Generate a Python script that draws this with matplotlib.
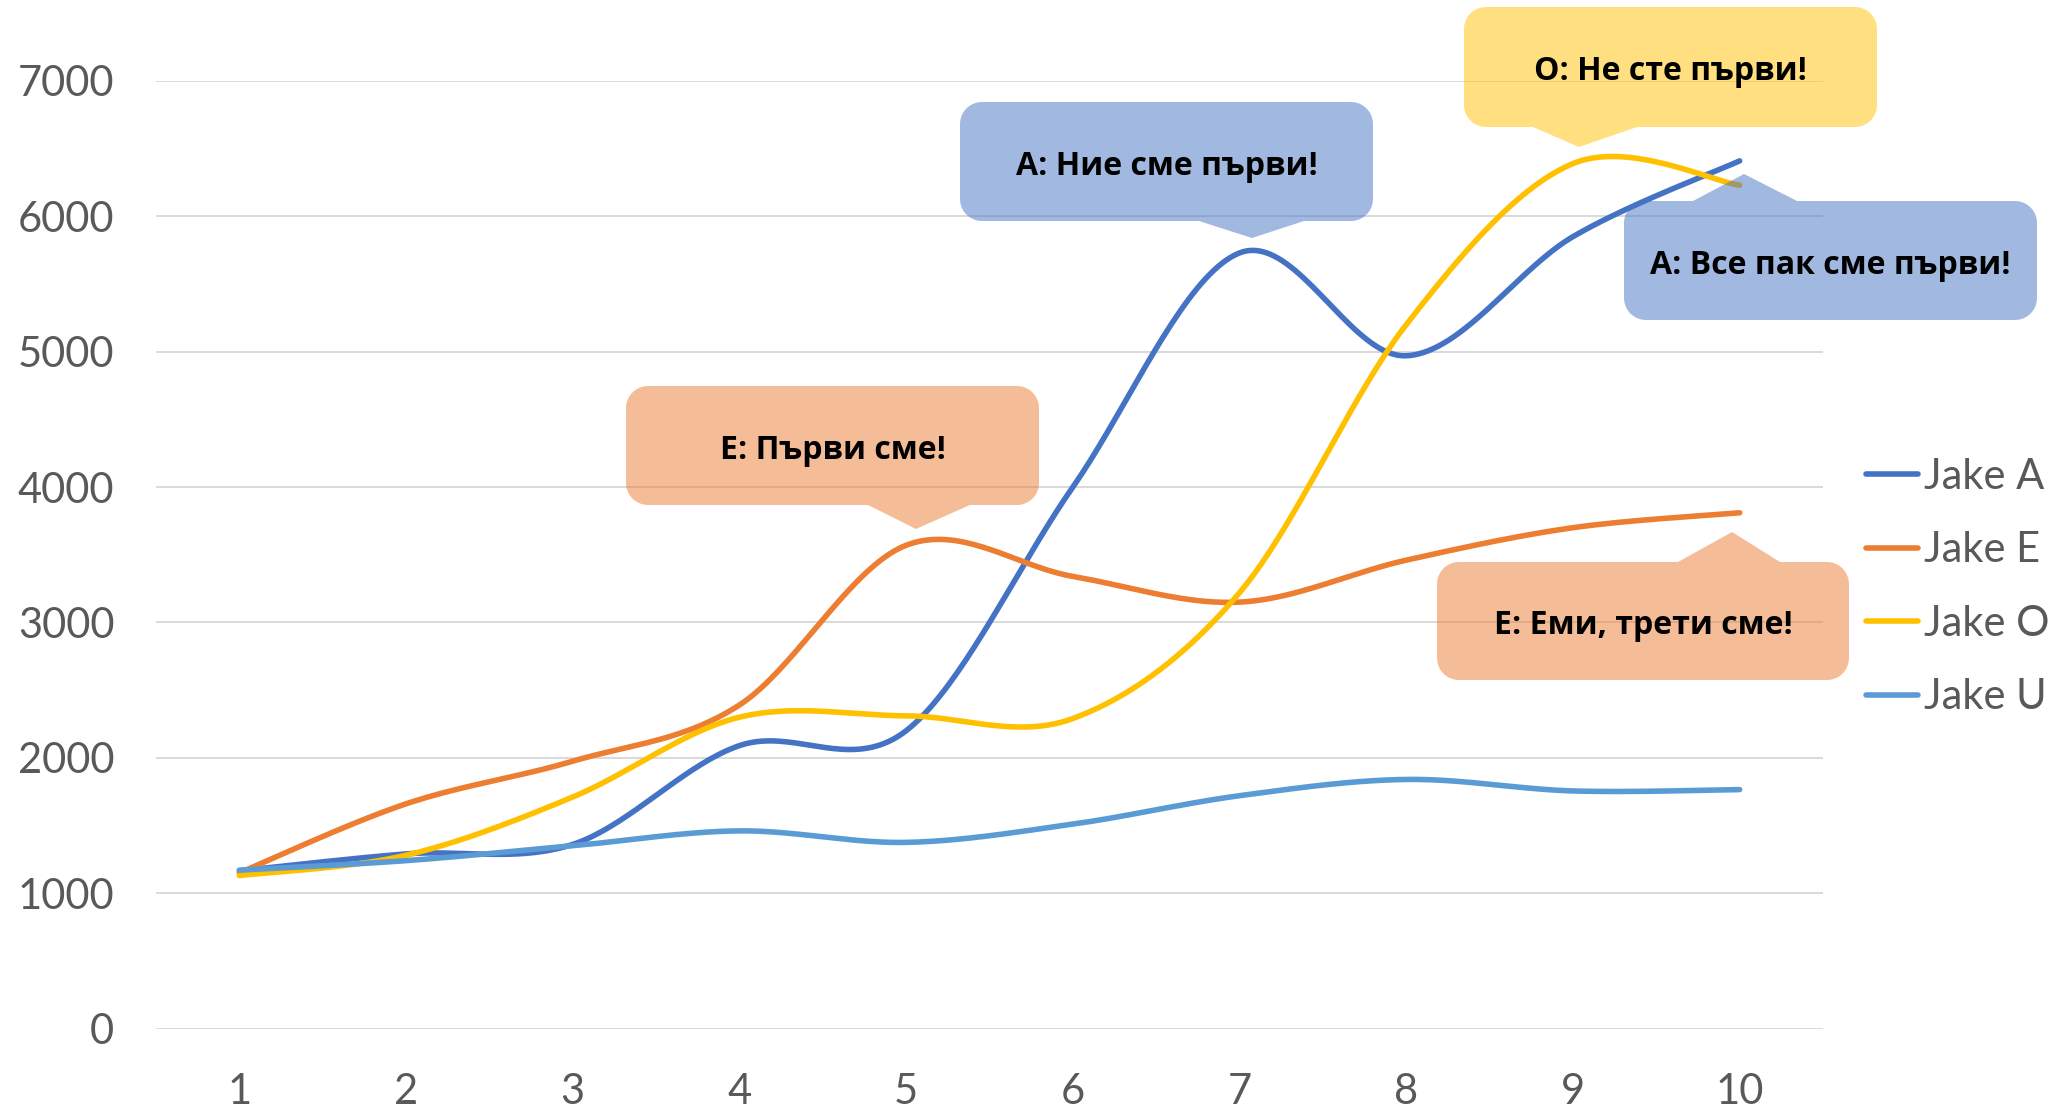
import numpy as np
import matplotlib
matplotlib.use("Agg")
import matplotlib.pyplot as plt
from matplotlib.patches import Polygon

plt.rcParams['font.family'] = ['Lato', 'Noto Sans', 'DejaVu Sans']

# ---- данни ----
x_vals = [1, 2, 3, 4, 5, 6, 7, 8, 9, 10]
jake_a = [1165, 1290, 1360, 2090, 2200, 4000, 5730, 4970, 5850, 6410]
jake_e = [1150, 1660, 1975, 2390, 3570, 3340, 3150, 3460, 3700, 3810]
jake_o = [1130, 1280, 1710, 2300, 2310, 2290, 3220, 5200, 6390, 6230]
jake_u = [1170, 1240, 1350, 1460, 1375, 1510, 1720, 1840, 1755, 1765]
series_names = ["Jake A", "Jake E", "Jake O", "Jake U"]
series_colors = ["#4472C4", "#ED7D31", "#FFC000", "#5B9BD5"]

callout_texts = ["A: Ние сме първи!", "E: Първи сме!", "O: Не сте първи!",
                 "A: Все пак сме първи!", "E: Еми, трети сме!"]

W, H = 2066, 1112


def excel_smooth(xs, ys, n=40):
    # гладка линия като в Excel (Безие с контролни точки от съседите)
    p = np.column_stack([xs, ys]).astype(float)
    pts = np.vstack([p[0], p, p[-1]])
    t = np.linspace(0, 1, n)[:, None]
    out = []
    for i in range(len(p) - 1):
        p0, p1 = pts[i + 1], pts[i + 2]
        c1 = p0 + (pts[i + 2] - pts[i]) / 6
        c2 = p1 - (pts[i + 3] - pts[i + 1]) / 6
        seg = ((1 - t) ** 3) * p0 + 3 * ((1 - t) ** 2) * t * c1 + 3 * (1 - t) * t ** 2 * c2 + t ** 3 * p1
        out.append(seg if i == 0 else seg[1:])
    out = np.vstack(out)
    return out[:, 0], out[:, 1]


def bubble(fig, box, base, tip, color, text, r=22):
    # box = (x0, y0, x1, y1) в пиксели отгоре-наляво
    x0, y0, x1, y1 = box
    def arc(cx, cy, a0, a1):
        a = np.radians(np.linspace(a0, a1, 12))
        return list(zip(cx + r * np.cos(a), cy + r * np.sin(a)))
    pts = []
    up = tip[1] < y0
    if up:
        pts += [(base[0], y0), tip, (base[1], y0)]
    pts += arc(x1 - r, y0 + r, -90, 0)
    pts += arc(x1 - r, y1 - r, 0, 90)
    if not up:
        pts += [(base[1], y1), tip, (base[0], y1)]
    pts += arc(x0 + r, y1 - r, 90, 180)
    pts += arc(x0 + r, y0 + r, 180, 270)
    pts = [(px / W, 1 - py / H) for px, py in pts]
    poly = Polygon(pts, closed=True, transform=fig.transFigure, facecolor=color,
                   alpha=0.5, edgecolor='none', zorder=10)
    fig.add_artist(poly)
    fig.text((x0 + x1) / 2 / W, 1 - ((y0 + y1) / 2 + 5) / H, text, ha='center', va='center',
             fontsize=23, fontweight='bold', color='black', zorder=11,
             family=['Open Sans', 'Noto Sans', 'DejaVu Sans'])


fig = plt.figure(figsize=(W / 100, H / 100), dpi=100)
ax = fig.add_axes([156 / W, 1 - 1028.5 / H, (1823 - 156) / W, (1028.5 - 81) / H])

for ys, name, col in zip([jake_a, jake_e, jake_o, jake_u], series_names, series_colors):
    sx, sy = excel_smooth(x_vals, ys)
    ax.plot(sx, sy, color=col, lw=4.0, label=name, solid_capstyle='round', clip_on=False)

ax.set_xlim(0.5, 10.5)
ax.set_ylim(0, 7000)
ax.set_xticks(x_vals)
ax.set_yticks(range(0, 7001, 1000))
ax.grid(axis='y', color='#D9D9D9', lw=1.4)
ax.set_axisbelow(True)
for s in ax.spines.values():
    s.set_visible(False)
ax.tick_params(length=0, labelsize=30, labelcolor='#595959')
ax.tick_params(axis='x', pad=32)
ax.tick_params(axis='y', pad=30)

leg = fig.legend(loc='center left', bbox_to_anchor=(1866 / W, 1 - 587 / H),
                 bbox_transform=fig.transFigure, frameon=False, fontsize=30,
                 handlelength=1.25, handletextpad=0.15, labelspacing=0.85,
                 borderpad=0, borderaxespad=0)
for t in leg.get_texts():
    t.set_color('#595959')
for h in leg.get_lines():
    h.set_linewidth(4.0)

bubble(fig, (960, 102, 1373, 221), (1199, 1304), (1252, 238), "#4472C4", callout_texts[0])
bubble(fig, (626, 386, 1039, 505), (868, 970), (916, 529), "#ED7D31", callout_texts[1])
bubble(fig, (1464, 7, 1877, 127), (1533, 1637), (1579, 147), "#FFC000", callout_texts[2])
bubble(fig, (1624, 201, 2037, 320), (1693, 1797), (1744, 174), "#4472C4", callout_texts[3])
bubble(fig, (1437, 562, 1849, 680), (1678, 1780), (1732, 532), "#ED7D31", callout_texts[4])

fig.savefig("out.png", dpi=100)
plt.close()
